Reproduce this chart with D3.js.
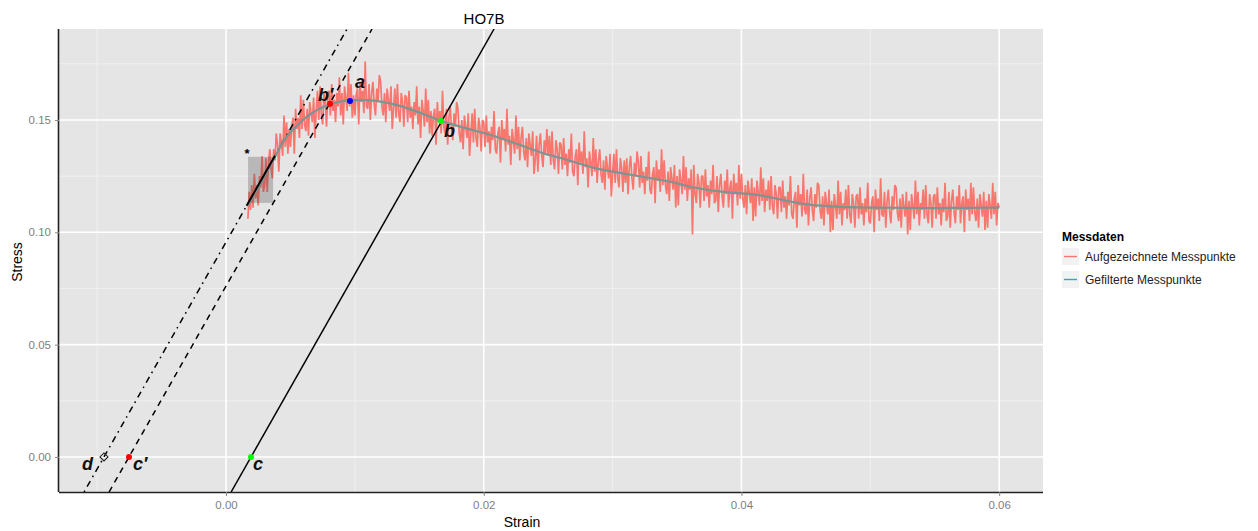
<!DOCTYPE html>
<html>
<head>
<meta charset="utf-8">
<script src="https://cdn.jsdelivr.net/npm/d3@7"></script>
<style>
  body { margin: 0; background: #fff; }
  text { font-family: "Liberation Sans", Arial, sans-serif; }
</style>
</head>
<body>
<svg id="chart" width="1258" height="531"></svg>
<script>
// Filtered curve
const filtStrain = [0.0017, 0.0028, 0.0038, 0.0044, 0.0050, 0.0057, 0.0064, 0.0071, 0.0081, 0.0090,
  0.0096, 0.0110, 0.0120, 0.0135, 0.0150, 0.0167, 0.0185, 0.0205, 0.0225, 0.0245, 0.0265, 0.0285,
  0.0305, 0.0325, 0.0345, 0.0360, 0.0386, 0.0412, 0.0438, 0.0451, 0.0477, 0.0500, 0.0525, 0.0550,
  0.0575, 0.0600];
const filtStress = [0.112, 0.123, 0.1336, 0.140, 0.1445, 0.1485, 0.152, 0.1545, 0.157, 0.1583,
  0.1587, 0.1588, 0.1582, 0.1563, 0.1533, 0.1496, 0.1465, 0.1434, 0.1395, 0.1354, 0.1322, 0.1288,
  0.1265, 0.1245, 0.1225, 0.1203, 0.118, 0.1167, 0.1137, 0.1124, 0.1113, 0.1110, 0.1109, 0.1108,
  0.1109, 0.1110];

// Recorded raw stress, one sample every 0.0001 strain starting at 0.0017
const rawStart = 0.0017, rawStep = 0.0001;
const rawStress = [
  0.106, 0.118, 0.110,
  0.121, 0.111, 0.126, 0.115, 0.121, 0.112, 0.125, 0.120, 0.134, 0.118,
  0.121, 0.133, 0.118, 0.131, 0.137, 0.128, 0.124, 0.137, 0.132, 0.144,
  0.139, 0.127, 0.144, 0.140, 0.134, 0.152, 0.138, 0.149, 0.135, 0.146,
  0.138, 0.147, 0.151, 0.135, 0.155, 0.146, 0.151, 0.142, 0.161, 0.146,
  0.159, 0.148, 0.145, 0.155, 0.143, 0.158, 0.153, 0.149, 0.160, 0.142,
  0.154, 0.163, 0.150, 0.165, 0.152, 0.148, 0.162, 0.158, 0.147, 0.161,
  0.163, 0.152, 0.166, 0.154, 0.159, 0.149, 0.162, 0.156, 0.169, 0.152,
  0.162, 0.148, 0.165, 0.160, 0.154, 0.171, 0.156, 0.166, 0.151, 0.161,
  0.152, 0.161, 0.164, 0.148, 0.167, 0.158, 0.163, 0.153, 0.176, 0.156,
  0.155, 0.166, 0.150, 0.162, 0.167, 0.157, 0.152, 0.164, 0.158, 0.170,
  0.167, 0.156, 0.152, 0.162, 0.149, 0.164, 0.159, 0.154, 0.165, 0.146,
  0.155, 0.164, 0.151, 0.166, 0.153, 0.149, 0.162, 0.158, 0.147, 0.161,
  0.160, 0.149, 0.163, 0.151, 0.156, 0.146, 0.158, 0.152, 0.165, 0.148,
  0.156, 0.142, 0.159, 0.154, 0.147, 0.164, 0.149, 0.159, 0.144, 0.154,
  0.143, 0.152, 0.155, 0.139, 0.158, 0.149, 0.154, 0.144, 0.163, 0.147,
  0.144, 0.155, 0.139, 0.151, 0.156, 0.146, 0.141, 0.153, 0.147, 0.158,
  0.155, 0.144, 0.140, 0.150, 0.137, 0.152, 0.147, 0.142, 0.153, 0.134,
  0.144, 0.153, 0.140, 0.155, 0.142, 0.138, 0.151, 0.147, 0.136, 0.150,
  0.149, 0.138, 0.152, 0.140, 0.145, 0.135, 0.147, 0.141, 0.154, 0.137,
  0.135, 0.144, 0.147, 0.131, 0.150, 0.141, 0.146, 0.136, 0.155, 0.139,
  0.143, 0.130, 0.146, 0.141, 0.135, 0.152, 0.137, 0.147, 0.132, 0.142,
  0.147, 0.136, 0.132, 0.142, 0.129, 0.144, 0.139, 0.134, 0.145, 0.126,
  0.132, 0.143, 0.127, 0.139, 0.144, 0.134, 0.129, 0.141, 0.135, 0.146,
  0.134, 0.143, 0.130, 0.145, 0.132, 0.128, 0.141, 0.137, 0.126, 0.140,
  0.139, 0.128, 0.142, 0.130, 0.135, 0.125, 0.137, 0.131, 0.144, 0.127,
  0.125, 0.134, 0.137, 0.121, 0.140, 0.131, 0.136, 0.126, 0.145, 0.129,
  0.133, 0.120, 0.136, 0.131, 0.125, 0.142, 0.127, 0.137, 0.122, 0.132,
  0.137, 0.126, 0.122, 0.132, 0.119, 0.134, 0.129, 0.124, 0.135, 0.116,
  0.126, 0.135, 0.122, 0.137, 0.124, 0.120, 0.133, 0.129, 0.118, 0.132,
  0.122, 0.133, 0.117, 0.129, 0.134, 0.124, 0.119, 0.131, 0.125, 0.136,
  0.131, 0.120, 0.134, 0.122, 0.127, 0.117, 0.129, 0.123, 0.136, 0.119,
  0.117, 0.126, 0.129, 0.113, 0.132, 0.123, 0.128, 0.118, 0.137, 0.121,
  0.132, 0.121, 0.117, 0.127, 0.114, 0.129, 0.124, 0.119, 0.130, 0.111,
  0.125, 0.112, 0.128, 0.123, 0.117, 0.134, 0.119, 0.129, 0.114, 0.124,
  0.119, 0.128, 0.099, 0.130, 0.117, 0.113, 0.126, 0.122, 0.111, 0.125,
  0.125, 0.114, 0.128, 0.116, 0.121, 0.111, 0.123, 0.117, 0.130, 0.113,
  0.114, 0.125, 0.109, 0.121, 0.126, 0.116, 0.111, 0.123, 0.117, 0.128,
  0.111, 0.120, 0.123, 0.106, 0.126, 0.117, 0.122, 0.112, 0.130, 0.115,
  0.126, 0.115, 0.111, 0.121, 0.108, 0.123, 0.118, 0.113, 0.124, 0.105,
  0.120, 0.107, 0.123, 0.118, 0.112, 0.129, 0.114, 0.124, 0.109, 0.119,
  0.114, 0.123, 0.110, 0.125, 0.112, 0.108, 0.121, 0.117, 0.106, 0.120,
  0.120, 0.109, 0.123, 0.111, 0.116, 0.106, 0.118, 0.112, 0.125, 0.108,
  0.106, 0.115, 0.118, 0.102, 0.121, 0.112, 0.117, 0.107, 0.126, 0.110,
  0.108, 0.119, 0.103, 0.115, 0.120, 0.110, 0.105, 0.117, 0.111, 0.122,
  0.121, 0.110, 0.106, 0.116, 0.103, 0.118, 0.113, 0.108, 0.119, 0.100,
  0.114, 0.101, 0.117, 0.112, 0.106, 0.123, 0.108, 0.118, 0.103, 0.113,
  0.110, 0.119, 0.106, 0.121, 0.108, 0.104, 0.117, 0.113, 0.102, 0.116,
  0.117, 0.106, 0.120, 0.108, 0.113, 0.103, 0.115, 0.109, 0.122, 0.105,
  0.104, 0.113, 0.116, 0.100, 0.119, 0.110, 0.115, 0.105, 0.124, 0.108,
  0.107, 0.118, 0.102, 0.114, 0.119, 0.109, 0.104, 0.116, 0.110, 0.121,
  0.120, 0.109, 0.105, 0.115, 0.102, 0.117, 0.112, 0.107, 0.118, 0.099,
  0.114, 0.101, 0.117, 0.112, 0.106, 0.123, 0.108, 0.118, 0.103, 0.113,
  0.110, 0.119, 0.106, 0.121, 0.108, 0.104, 0.117, 0.113, 0.102, 0.116,
  0.117, 0.106, 0.120, 0.108, 0.113, 0.103, 0.115, 0.109, 0.122, 0.105,
  0.107, 0.118, 0.102, 0.114, 0.119, 0.109, 0.104, 0.116, 0.110, 0.121,
  0.104, 0.113, 0.116, 0.100, 0.119, 0.110, 0.115, 0.105, 0.122, 0.108,
  0.120, 0.109, 0.105, 0.115, 0.102, 0.117, 0.112, 0.107, 0.118, 0.101,
  0.114, 0.102, 0.117, 0.112, 0.106, 0.122, 0.108, 0.118, 0.103, 0.113,
  0.111
];

// Modulus lines: stress = slope * (strain - intercept)
const modSlope = 10.1;
const modIntercepts = [0.00194, -0.00753, -0.00947];
const modDash = [null, "6,5", "1.6,4.5,6.5,4.5"];

// Fit window (grey box) and fitted segment
const boxStrain = [0.00171, 0.00365];
const boxStress = [0.1131, 0.1336];
const fitStrain = [0.0016, 0.0038];

// Marked points
const ptLabel = ["a", "b\u2032", "b", "c", "c\u2032", "d"];
const ptStrain = [0.00962, 0.00807, 0.01669, 0.00194, -0.00753, -0.00947];
const ptStress = [0.1585, 0.1572, 0.1496, 0, 0, 0];
const ptColor = ["#0000ff", "#ff0000", "#00ff00", "#00ff00", "#ff0000", "none"];

const xTicks = [0, 0.02, 0.04, 0.06];
const yTicks = [0, 0.05, 0.10, 0.15];
const xMinor = [-0.01, 0.01, 0.03, 0.05];
const yMinor = [0.025, 0.075, 0.125, 0.175];

const legendTitle = "Messdaten";
const legendLabels = ["Aufgezeichnete Messpunkte", "Gefilterte Messpunkte"];
const legendColors = ["#F8766D", "#00BFC4"];

const svg = d3.select("#chart");
const L = 59, R = 1043, T = 29, B = 492;
const x = d3.scaleLinear().domain([-0.01296, 0.0634]).range([L, R]);
const y = d3.scaleLinear().domain([-0.0156, 0.1905]).range([B, T]);

svg.append("defs").append("clipPath").attr("id", "panel")
  .append("rect").attr("x", L).attr("y", T).attr("width", R - L).attr("height", B - T);

// Panel + grid
svg.append("rect").attr("x", L).attr("y", T).attr("width", R - L).attr("height", B - T).attr("fill", "#e5e5e5");
const grid = svg.append("g");
grid.selectAll(".vmin").data(xMinor).enter().append("line")
  .attr("x1", d => x(d)).attr("x2", d => x(d)).attr("y1", T).attr("y2", B)
  .attr("stroke", "#f2f2f2").attr("stroke-width", 0.8);
grid.selectAll(".hmin").data(yMinor).enter().append("line")
  .attr("y1", d => y(d)).attr("y2", d => y(d)).attr("x1", L).attr("x2", R)
  .attr("stroke", "#f2f2f2").attr("stroke-width", 0.8);
grid.selectAll(".vmaj").data(xTicks).enter().append("line")
  .attr("x1", d => x(d)).attr("x2", d => x(d)).attr("y1", T).attr("y2", B)
  .attr("stroke", "#fff").attr("stroke-width", 1.6);
grid.selectAll(".hmaj").data(yTicks).enter().append("line")
  .attr("y1", d => y(d)).attr("y2", d => y(d)).attr("x1", L).attr("x2", R)
  .attr("stroke", "#fff").attr("stroke-width", 1.6);

const plot = svg.append("g").attr("clip-path", "url(#panel)");

// Raw trace
const rawLine = d3.line().x((d, i) => x(rawStart + i * rawStep)).y(d => y(d));
plot.append("path").attr("d", rawLine(rawStress))
  .attr("fill", "none").attr("stroke", "#F8766D").attr("stroke-width", 1.7)
  .attr("stroke-linejoin", "bevel");

// Modulus lines
const yEnds = [-0.0156, 0.1905];
modIntercepts.forEach((c, i) => {
  plot.append("line")
    .attr("x1", x(c + yEnds[0] / modSlope)).attr("y1", y(yEnds[0]))
    .attr("x2", x(c + yEnds[1] / modSlope)).attr("y2", y(yEnds[1]))
    .attr("stroke", "#000").attr("stroke-width", 1.5)
    .attr("stroke-dasharray", modDash[i]);
});

// Fit window box
plot.append("rect")
  .attr("x", x(boxStrain[0])).attr("y", y(boxStress[1]))
  .attr("width", x(boxStrain[1]) - x(boxStrain[0]))
  .attr("height", y(boxStress[0]) - y(boxStress[1]))
  .attr("fill", "#333").attr("fill-opacity", 0.25);

// Filtered curve
const filtLine = d3.line().curve(d3.curveCatmullRom).x(d => x(d[0])).y(d => y(d[1]));
plot.append("path").attr("d", filtLine(filtStrain.map((s, i) => [s, filtStress[i]])))
  .attr("fill", "none").attr("stroke", "#7c9492").attr("stroke-width", 2.2);

// Fitted segment (on dash-dot line)
plot.append("line")
  .attr("x1", x(fitStrain[0])).attr("y1", y(modSlope * (fitStrain[0] - modIntercepts[2])))
  .attr("x2", x(fitStrain[1])).attr("y2", y(modSlope * (fitStrain[1] - modIntercepts[2])))
  .attr("stroke", "#000").attr("stroke-width", 2);

svg.append("text").attr("x", x(0.00163)).attr("y", y(0.1358) + 6)
  .attr("text-anchor", "middle").attr("font-size", 13).attr("font-weight", "bold").text("*");

// Points
ptLabel.forEach((lab, i) => {
  const cx = x(ptStrain[i]), cy = y(ptStress[i]);
  if (lab === "d") {
    svg.append("path").attr("d", `M${cx},${cy - 4}L${cx + 4},${cy}L${cx},${cy + 4}L${cx - 4},${cy}Z`)
      .attr("fill", "none").attr("stroke", "#222").attr("stroke-width", 1.1);
  } else {
    svg.append("circle").attr("cx", cx).attr("cy", cy).attr("r", 3).attr("fill", ptColor[i]);
  }
});
const labDx = [5, -12, 3, 2, 4, -22];
const labDy = [-13, -3, 16, 13, 13, 13];
ptLabel.forEach((lab, i) => {
  svg.append("text").attr("x", x(ptStrain[i]) + labDx[i]).attr("y", y(ptStress[i]) + labDy[i])
    .attr("font-size", 18).attr("font-weight", "bold").attr("font-style", "italic")
    .attr("fill", "#111").text(lab);
});

// Axes
const xAxis = svg.append("g").attr("transform", `translate(0,${B})`)
  .call(d3.axisBottom(x).tickValues(xTicks).tickFormat(d3.format(".2f")).tickSize(4).tickPadding(5));
const yAxis = svg.append("g").attr("transform", `translate(${L},0)`)
  .call(d3.axisLeft(y).tickValues(yTicks).tickFormat(d3.format(".2f")).tickSize(4).tickPadding(4));
[xAxis, yAxis].forEach(a => {
  a.select(".domain").attr("stroke", "#222").attr("stroke-width", 1.6);
  a.selectAll(".tick line").attr("stroke", "#888");
  a.selectAll(".tick text").attr("fill", "#808080").attr("font-size", 11.5)
    .attr("font-family", "Liberation Sans, Arial, sans-serif");
});
xAxis.select(".domain").attr("d", `M${L},0.5H${R}`);
yAxis.select(".domain").attr("d", `M-0.5,${T}V${B}`);

// Titles
svg.append("text").attr("x", 484).attr("y", 24).attr("text-anchor", "middle")
  .attr("font-size", 15).text("HO7B");
svg.append("text").attr("x", 522).attr("y", 527).attr("text-anchor", "middle")
  .attr("font-size", 14).text("Strain");
svg.append("text").attr("transform", "translate(22,262) rotate(-90)").attr("text-anchor", "middle")
  .attr("font-size", 14).text("Stress");

// Legend
const lg = svg.append("g").attr("transform", "translate(1062,0)");
lg.append("text").attr("x", 0).attr("y", 241).attr("font-size", 12).attr("font-weight", "bold").text(legendTitle);
legendLabels.forEach((lab, i) => {
  const ky = 248 + i * 23;
  lg.append("rect").attr("x", 0).attr("y", ky).attr("width", 17).attr("height", 17).attr("fill", "#f2f2f2");
  lg.append("line").attr("x1", 2).attr("x2", 15).attr("y1", ky + 8.5).attr("y2", ky + 8.5)
    .attr("stroke", legendColors[i]).attr("stroke-width", 1.4);
  lg.append("text").attr("x", 23).attr("y", ky + 13).attr("font-size", 12).attr("fill", "#222").text(lab);
});
</script>
</body>
</html>
